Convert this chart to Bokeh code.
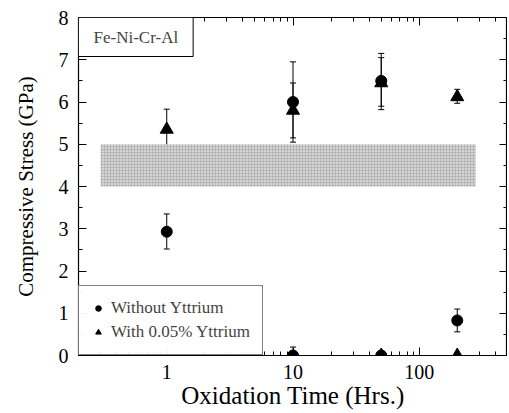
from bokeh.plotting import figure
from bokeh.models import (ColumnDataSource, Whisker, TeeHead, FixedTicker, LinearAxis, LogAxis,
                          CustomJSTickFormatter, Legend, LegendItem, Label, SingleIntervalTicker)
from bokeh.embed import file_html
from bokeh.resources import INLINE

# Data
t_no_y = [1, 10, 50, 200, 10, 50]
s_no_y = [2.93, 6.0, 6.5, 0.83, 0.0, 0.0]
lo_no_y = [2.52, 5.05, 5.82, 0.56, 0.0, 0.0]
hi_no_y = [3.35, 6.95, 7.15, 1.1, 0.2, 0.1]

t_y = [1, 10, 50, 200, 50, 200]
s_y = [5.35, 5.8, 6.45, 6.12, 0.0, 0.0]
lo_y = [4.92, 5.15, 5.9, 5.97, 0.0, 0.0]
hi_y = [5.83, 6.45, 7.05, 6.3, 0.0, 0.0]

band_t = [0.3, 280]
band_s = [4.0, 5.0]

x_major = [1, 10, 100]
x_labels = ["1", "10", "100"]
x_minor = [0.2, 0.3, 0.4, 0.5, 0.6, 0.7, 0.8, 0.9,
           2, 3, 4, 5, 6, 7, 8, 9,
           20, 30, 40, 50, 60, 70, 80, 90,
           200, 300, 400, 500]

FONT = "Liberation Serif"

p = figure(width=507, height=411, x_axis_type="log", x_range=(0.2, 500), y_range=(0, 8),
           output_backend="svg", toolbar_location=None,
           min_border_left=78, min_border_right=0, min_border_top=17, min_border_bottom=56)
p.grid.visible = False
p.outline_line_color = "black"
p.outline_line_width = 1.2

p.quad(left=band_t[0], right=band_t[1], bottom=band_s[0], top=band_s[1],
       fill_color="#d4d4d4", line_color=None,
       hatch_pattern="+", hatch_color="#a0a0a0", hatch_scale=3, hatch_weight=0.5)

src1 = ColumnDataSource(dict(x=t_no_y, y=s_no_y, lo=lo_no_y, hi=hi_no_y))
src2 = ColumnDataSource(dict(x=t_y, y=s_y, lo=lo_y, hi=hi_y))
for src in (src1, src2):
    w = Whisker(source=src, base="x", lower="lo", upper="hi", dimension="height",
                line_color="black", line_width=1,
                lower_head=TeeHead(size=6, line_color="black", line_width=1),
                upper_head=TeeHead(size=6, line_color="black", line_width=1))
    p.add_layout(w)

r1 = p.scatter("x", "y", source=src1, marker="circle", size=11, fill_color="black", line_color="black")
r2 = p.scatter("x", "y", source=src2, marker="triangle", size=13, fill_color="black", line_color="black")

xt = FixedTicker(ticks=x_major, minor_ticks=x_minor)
fmt = CustomJSTickFormatter(args=dict(maj=x_major, lab=x_labels),
                            code="const i = maj.indexOf(tick); return i >= 0 ? lab[i] : '';")
blank = CustomJSTickFormatter(code="return '';")

bottom = p.below[0]
left = p.left[0]
bottom.ticker = xt
bottom.formatter = fmt
yt = SingleIntervalTicker(interval=1, num_minor_ticks=2)
left.ticker = yt

top = LogAxis(ticker=xt, formatter=blank)
right = LinearAxis(ticker=yt, formatter=blank)
p.add_layout(top, "above")
p.add_layout(right, "right")

for ax in (bottom, left, top, right):
    ax.major_tick_in = 8
    ax.major_tick_out = 0
    ax.minor_tick_in = 4
    ax.minor_tick_out = 0
    ax.axis_line_color = "black"
    ax.major_tick_line_color = "black"
    ax.minor_tick_line_color = "black"
    ax.major_label_text_font = FONT
    ax.axis_label_text_font = FONT
    ax.axis_label_text_font_style = "normal"
    ax.major_label_text_color = "black"
    ax.axis_label_text_color = "black"
for ax in (top, right):
    ax.major_label_standoff = 0
    ax.major_label_text_font_size = "1px"

bottom.major_label_text_font_size = "20px"
left.major_label_text_font_size = "20px"
bottom.axis_label = "Oxidation Time (Hrs.)"
left.axis_label = "Compressive Stress (GPa)"
bottom.axis_label_text_font_size = "25px"
left.axis_label_text_font_size = "21px"
bottom.major_label_standoff = 9
left.major_label_standoff = 10
bottom.axis_label_standoff = 0
left.axis_label_standoff = 18

legend = Legend(items=[LegendItem(label="Without Yttrium", renderers=[r1]),
                       LegendItem(label="With 0.05% Yttrium", renderers=[r2])],
                location="bottom_left", margin=0, padding=12, spacing=4,
                label_text_font=FONT, label_text_font_size="17px",
                border_line_color="black", border_line_width=1,
                glyph_width=14, label_standoff=6)
p.add_layout(legend)

lab = Label(x=0.2, y=8, text="Fe-Ni-Cr-Al", anchor="top_left", text_font=FONT,
            text_font_size="17px", border_line_color="black", background_fill_color="white",
            padding=(15, 10))
p.add_layout(lab)

open("out.html", "w").write(file_html(p, INLINE))
